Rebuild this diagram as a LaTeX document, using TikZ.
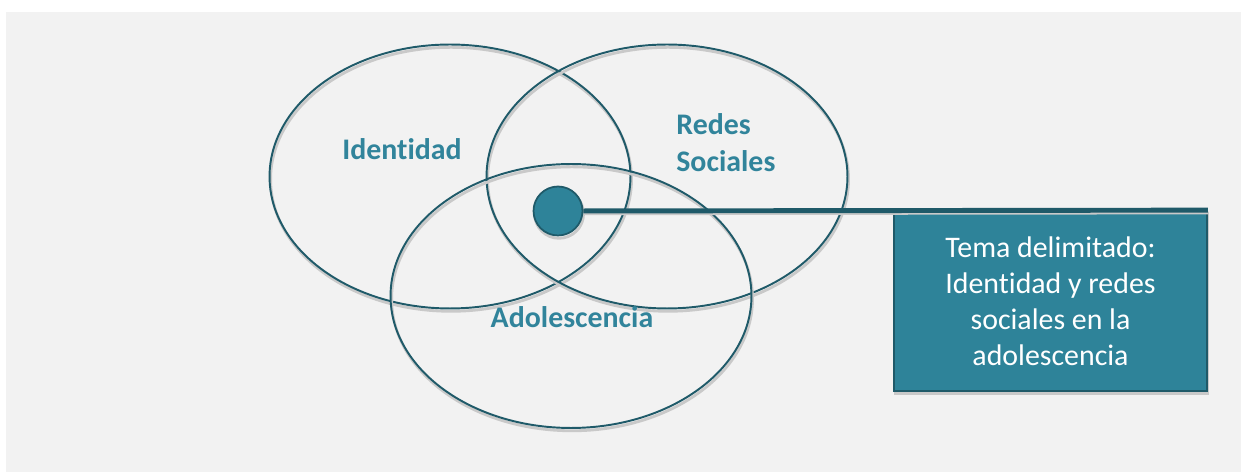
\documentclass[tikz,border=0pt]{standalone}
\usepackage{fontspec}
\setmainfont[Ligatures=NoCommon]{Carlito}
\usepackage{tikz}
\usetikzlibrary{shapes.geometric}

\definecolor{bggray}{HTML}{F2F2F2}
\definecolor{tealtext}{HTML}{31849B}
\definecolor{tealfill}{HTML}{2E8399}
\definecolor{tealdark}{HTML}{1F5A69}
\definecolor{shadowgray}{HTML}{C9C9C9}

\begin{document}
\begin{tikzpicture}[
    x=0.02cm, y=-0.02cm,
    shadowed/.style={preaction={draw=shadowgray, line width=1.6pt, transform canvas={xshift=0.6pt, yshift=-1.6pt}}},
    field/.style={ellipse, draw=tealdark, line width=1.1pt, shadowed, minimum width=7.22cm, minimum height=5.28cm, inner sep=0pt},
    fieldlabel/.style={text=tealtext, font=\fontsize{17}{21}\selectfont\bfseries, inner sep=0pt, align=left},
    focus/.style={circle, draw=tealdark, line width=1pt, fill=tealfill, shadowed, minimum size=0.98cm, inner sep=0pt},
    topicbox/.style={rectangle, draw=tealdark, line width=1pt, fill=tealfill, shadowed, minimum width=6.26cm, minimum height=3.6cm, text=white, align=center, font=\fontsize{17}{20.4}\selectfont}
]

% Background
\useasboundingbox (0,0) rectangle (1241,472);
\fill[bggray] (6,12) rectangle (1241,472);

% Fields
\node[field] (identidad) at (450,176.5) {};
\node[field] (redes) at (667,176.5) {};
\node[field] (adolescencia) at (571,296) {};

% Labels
\node[fieldlabel, anchor=base] (lblIdentidad) at (402,160) {Identidad};
\node[fieldlabel, anchor=west] (lblRedes) at (676,143) {Redes\\Sociales};
\node[fieldlabel, anchor=base] (lblAdolescencia) at (572,328) {Adolescencia};

% Topic
\node[topicbox] (tema) at (1050.5,301) {Tema delimitado:\\Identidad y redes\\sociales en la\\adolescencia};
\node[focus] (punto) at (558,211) {};

% Connection
\draw[tealdark, line width=2.8pt, shadowed] (punto) -- (tema.north east);

\end{tikzpicture}
\end{document}
